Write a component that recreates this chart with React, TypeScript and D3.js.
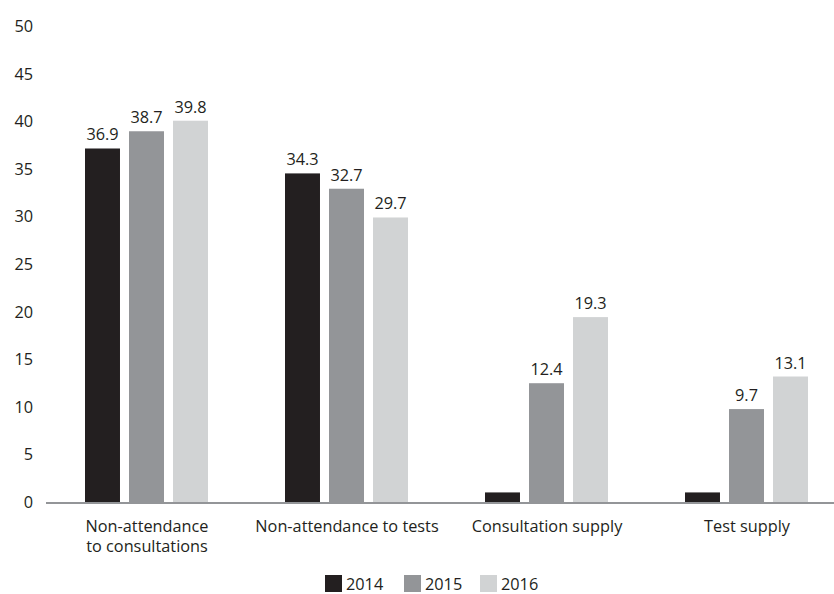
import React from "react";
import * as d3 from "d3";

const categories = ["Non-attendance\nto consultations", "Non-attendance to tests", "Consultation supply", "Test supply"];
const years = ["2014", "2015", "2016"];
const values2014 = [36.9, 34.3, 1.0, 1.0];
const values2015 = [38.7, 32.7, 12.4, 9.7];
const values2016 = [39.8, 29.7, 19.3, 13.1];
const showLabel2014 = [true, true, false, false];
const yTicks = [0, 5, 10, 15, 20, 25, 30, 35, 40, 45, 50];
const colors = ["#231f20", "#939598", "#d1d3d4"];

export default function App() {
  const W = 834, H = 594;
  const font = "'Open Sans', sans-serif";
  const fs = 16.3;
  const y = d3.scaleLinear().domain([0, 50]).range([502, 23]);
  const x0 = d3.scaleBand().domain(categories).range([47, 847]);
  const x1 = d3.scaleBand().domain(years).range([38, 161]).paddingInner(0.205);
  const series = [values2014, values2015, values2016];
  return (
    <svg width={W} height={H} style={{ position: "absolute", left: 0, top: 0, fontFamily: font }}>
      <rect width={W} height={H} fill="#fff" />
      {yTicks.map((t) => (
        <text key={t} x={33} y={y(t) + 6 + (t / 50) * 3} textAnchor="end" fontSize={fs} fill="#231f20">{t}</text>
      ))}
      {categories.map((c, ci) => (
        <g key={c}>
          {years.map((yr, si) => {
            const v = series[si][ci];
            const bx = (x0(c) as number) + (x1(yr) as number);
            const bw = x1.bandwidth();
            return (
              <g key={yr}>
                <rect x={bx} y={y(v)} width={bw} height={y(0) - y(v)} fill={colors[si]} />
                {(si > 0 || showLabel2014[ci]) && (
                  <text x={bx + bw / 2} y={y(v) - 8} textAnchor="middle" fontSize={fs} fill="#231f20">{v.toFixed(1)}</text>
                )}
              </g>
            );
          })}
          <text x={(x0(c) as number) + x0.bandwidth() / 2} y={532} textAnchor="middle" fontSize={fs} fill="#231f20">
            {c.split("\n").map((line, li) => (
              <tspan key={li} x={(x0(c) as number) + x0.bandwidth() / 2} dy={li === 0 ? 0 : 20}>{line}</tspan>
            ))}
          </text>
        </g>
      ))}
      <line x1={46} x2={834} y1={y(0) + 1} y2={y(0) + 1} stroke="#939598" strokeWidth={2} />
      {years.map((yr, i) => {
        const lx = [325, 404, 480][i];
        return (
          <g key={yr}>
            <rect x={lx} y={575} width={17} height={17} fill={colors[i]} />
            <text x={lx + 21} y={590} fontSize={fs} fill="#231f20">{yr}</text>
          </g>
        );
      })}
    </svg>
  );
}
